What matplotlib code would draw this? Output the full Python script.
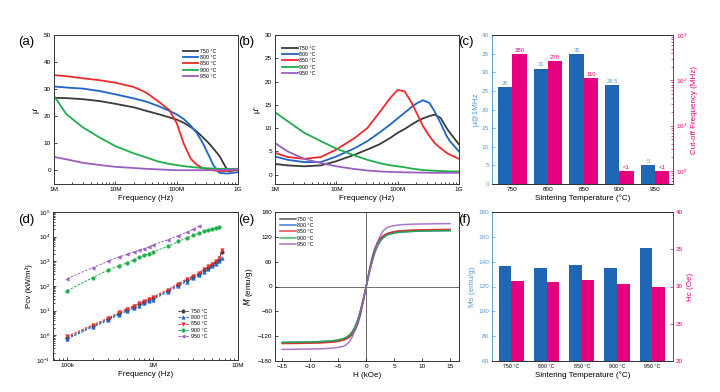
import matplotlib
matplotlib.use('Agg')
import matplotlib.pyplot as plt
from matplotlib.ticker import FixedLocator, LogLocator, NullFormatter, FixedFormatter

plt.rcParams['font.family'] = ['Liberation Sans', 'DejaVu Sans']
plt.rcParams['mathtext.default'] = 'regular'
plt.rcParams['xtick.direction'] = 'in'
plt.rcParams['ytick.direction'] = 'in'
plt.rcParams['axes.linewidth'] = 0.7

# ---------------- data ----------------
temps = ['750 °C', '800 °C', '850 °C', '900 °C', '950 °C']
line_colors = ['#3a3a3a', '#1f64c8', '#ee2a2a', '#1fae4b', '#9b5fc0']

# (a) mu' and (b) mu'' vs frequency
freq_ab = [1e6, 1.6e6, 3e6, 5.6e6, 1e7, 2e7, 3.2e7, 5e7, 7.6e7, 1e8, 1.3e8, 1.7e8,
           2.1e8, 2.6e8, 3.3e8, 4e8, 5e8, 6.3e8, 7.1e8, 1e9]
mu_real_750 = [26.8, 26.7, 26.3, 25.6, 24.6, 23.3, 22.0, 20.8, 19.6, 18.8, 17.6, 16.0,
               14.5, 12.5, 10.2, 8.0, 5.3, 1.2, -0.3, 0.3]
mu_real_800 = [31.0, 30.6, 30.2, 29.3, 28.1, 26.6, 25.4, 23.8, 22.0, 20.7, 19.0, 16.5,
               14.0, 10.6, 5.8, 1.8, -0.9, -1.1, -1.1, -0.6]
mu_real_850 = [35.2, 34.8, 34.0, 33.3, 32.4, 30.8, 28.7, 25.5, 22.3, 17.5, 10.0, 4.3,
               2.2, 1.0, 0.3, 0.0, -0.2, -0.2, -0.1, 0.4]
mu_real_900 = [27.5, 20.7, 15.8, 12.1, 9.0, 6.3, 4.8, 3.3, 2.4, 2.0, 1.6, 1.3,
               1.1, 0.9, 0.8, 0.7, 0.6, 0.6, 0.6, 0.6]
mu_real_950 = [5.0, 4.1, 2.8, 2.0, 1.35, 0.9, 0.6, 0.4, 0.2, 0.1, 0.1, 0.1,
               0.1, 0.1, 0.1, 0.2, 0.2, 0.3, 0.3, 0.4]

mu_imag_750 = [2.3, 2.0, 1.8, 2.0, 2.9, 4.3, 5.4, 6.5, 7.9, 9.0, 9.8, 10.8,
               11.5, 12.1, 12.6, 12.9, 12.2, 10.0, 9.0, 6.5]
mu_imag_800 = [3.9, 3.2, 2.7, 2.7, 3.9, 5.7, 7.2, 9.0, 10.8, 12.1, 13.3, 14.6,
               15.4, 16.0, 15.4, 13.6, 11.1, 8.3, 7.2, 5.0]
mu_imag_850 = [4.7, 3.8, 3.4, 3.8, 5.4, 7.9, 10.0, 13.3, 16.5, 18.2, 17.9, 15.4,
               12.9, 10.4, 8.3, 6.8, 5.7, 4.7, 4.3, 3.4]
mu_imag_900 = [13.4, 11.5, 9.0, 7.2, 5.6, 4.1, 3.2, 2.5, 2.0, 1.8, 1.6, 1.3,
               1.15, 1.0, 0.9, 0.85, 0.8, 0.75, 0.7, 0.7]
mu_imag_950 = [6.8, 5.0, 3.4, 2.5, 1.8, 1.2, 0.9, 0.7, 0.6, 0.55, 0.5, 0.5,
               0.45, 0.45, 0.4, 0.4, 0.4, 0.4, 0.4, 0.4]

# (c) permeability at 1 MHz and cut-off frequency
sinter_c = ['750', '800', '850', '900', '950']
mu_1mhz = [26, 31, 35, 26.5, 5]
mu_1mhz_labels = ['26', '31', '35', '26.5', '5']
cutoff_mhz = [380, 270, 110, 1, 1]
cutoff_labels = ['380', '270', '110', '<1', '<1']

# (d) core loss vs frequency
freq_d_low = [1e5, 2e5, 3e5, 4e5, 5e5, 6e5, 7e5, 8e5, 9e5, 1e6, 1.5e6, 2e6, 2.5e6,
              3e6, 3.5e6, 4e6, 4.5e6, 5e6, 5.5e6, 6e6, 6.5e6]
pcv_750 = [0.8, 2.4, 4.5, 7.6, 10.7, 14, 18, 22.5, 27, 32, 63, 112, 170, 235, 300,
           430, 560, 710, 920, 1150, 2500]
pcv_800 = [0.71, 2.2, 4.0, 6.8, 9.6, 12.6, 16, 20, 24, 28, 57, 100, 150, 210, 270,
           380, 500, 630, 800, 1000, 1400]
pcv_850 = [0.91, 2.7, 5.0, 8.5, 12, 15.8, 20, 25, 30, 35.5, 71, 126, 190, 263, 339,
           479, 631, 794, 1047, 1318, 2950]
freq_d_900 = [1e5, 2e5, 3e5, 4e5, 5e5, 6e5, 7e5, 8e5, 9e5, 1e6, 1.5e6, 2e6, 2.5e6,
              3e6, 3.5e6, 4e6, 4.5e6, 5e6, 5.5e6, 6e6]
pcv_900 = [65, 220, 440, 660, 850, 1150, 1450, 1750, 2050, 2400, 4000, 6400, 8900,
           11200, 14000, 16600, 19000, 21000, 23000, 25000]
freq_d_950 = [1e5, 2e5, 3e5, 4e5, 5e5, 6e5, 7e5, 8e5, 9e5, 1e6, 1.5e6, 2e6, 2.5e6,
              3e6, 3.5e6]
pcv_950 = [200, 560, 1000, 1500, 1900, 2400, 2800, 3300, 3900, 4600, 7500, 11000,
           15000, 20000, 27000]

# (e) hysteresis loops
field_koe = [-15, -12, -10, -8, -6, -5, -4, -3.5, -3, -2.5, -2, -1.5, -1, -0.5, 0,
             0.5, 1, 1.5, 2, 2.5, 3, 3.5, 4, 5, 6, 8, 10, 12, 15]
m_750 = [-137, -136.5, -136, -135.5, -134, -132, -129, -126, -122, -116, -106, -90, -67, -35, 0,
         35, 67, 90, 106, 116, 122, 126, 129, 132, 134, 135.5, 136, 136.5, 137]
m_800 = [-135, -134.5, -134, -133, -131.5, -129.5, -126, -123, -118, -110, -98, -81, -58, -31, 0,
         31, 58, 81, 98, 110, 118, 123, 126, 129.5, 131.5, 133, 134, 134.5, 135]
m_850 = [-138, -137.5, -137, -136, -134.5, -132.5, -129, -126, -121, -113, -101, -83, -60, -32, 0,
         32, 60, 83, 101, 113, 121, 126, 129, 132.5, 134.5, 136, 137, 137.5, 138]
m_900 = [-135, -134.5, -134, -133, -131, -129, -125.5, -122, -117, -109, -97, -80, -57, -30, 0,
         30, 57, 80, 97, 109, 117, 122, 125.5, 129, 131, 133, 134, 134.5, 135]
m_950 = [-152, -151.5, -151, -150.5, -149, -147, -144, -140, -134, -122, -105, -83, -58, -30, 0,
         30, 58, 83, 105, 122, 134, 140, 144, 147, 149, 150.5, 151, 151.5, 152]

# (f) Ms and Hc
ms_emu = [136.4, 134.5, 137.0, 134.8, 150.9]
hc_oe = [30.7, 30.6, 30.9, 30.4, 29.9]

# ---------------- styling ----------------
BAR_BLUE = '#1f67b4'
AX_BLUE = '#5b9bd5'
PINK = '#e6007e'
TICK_FS = 4.6
LAB_FS = 5.8
PANEL_FS = 9.5

fig = plt.figure(figsize=(7.2, 3.92), dpi=100)

def box(l, r, t, b):
    W, H = 720.0, 392.0
    return [l / W, 1 - b / H, (r - l) / W, (b - t) / H]

def style(ax):
    ax.tick_params(which='both', labelsize=TICK_FS, width=0.5, pad=2)
    ax.tick_params(which='major', length=2.5)
    ax.tick_params(which='minor', length=1.5)
    for s in ax.spines.values():
        s.set_color('#333333')

def freq_axis(ax):
    ax.set_xscale('log')
    ax.set_xlim(1e6, 1e9)
    ax.xaxis.set_major_locator(FixedLocator([1e6, 1e7, 1e8, 1e9]))
    ax.xaxis.set_major_formatter(FixedFormatter(['1M', '10M', '100M', '1G']))
    ax.xaxis.set_minor_locator(LogLocator(base=10, subs=range(2, 10)))
    ax.xaxis.set_minor_formatter(NullFormatter())
    ax.set_xlabel('Frequency (Hz)', fontsize=LAB_FS, labelpad=2)

# (a)
axa = fig.add_axes(box(54, 238, 35, 184))
for y, c, t in zip([mu_real_750, mu_real_800, mu_real_850, mu_real_900, mu_real_950], line_colors, temps):
    axa.plot(freq_ab, y, color=c, lw=1.3, label=t)
freq_axis(axa)
axa.set_ylim(-5, 50)
axa.set_yticks([0, 10, 20, 30, 40, 50])
axa.set_ylabel("μ'", fontsize=LAB_FS, labelpad=3)
axa.legend(loc='upper right', bbox_to_anchor=(0.9, 0.93), fontsize=3.8, frameon=False,
           handlelength=3.0, labelspacing=0.25, handletextpad=0.3, borderaxespad=0.2)
style(axa)

# (b)
axb = fig.add_axes(box(275, 459, 35, 184))
for y, c, t in zip([mu_imag_750, mu_imag_800, mu_imag_850, mu_imag_900, mu_imag_950], line_colors, temps):
    axb.plot(freq_ab, y, color=c, lw=1.3, label=t)
freq_axis(axb)
axb.set_ylim(-2, 30)
axb.set_yticks([0, 5, 10, 15, 20, 25, 30])
axb.set_ylabel("μ''", fontsize=LAB_FS, labelpad=3)
axb.legend(loc='upper left', bbox_to_anchor=(0.02, 0.95), fontsize=3.8, frameon=False,
           handlelength=3.0, labelspacing=0.25, handletextpad=0.3, borderaxespad=0.2)
style(axb)

# (c)
axc = fig.add_axes(box(492, 673, 35, 184))
xc = list(range(len(sinter_c)))
w = 0.4
bars = axc.bar([x - w / 2 for x in xc], mu_1mhz, width=w, color=BAR_BLUE, zorder=2)
for b_, lab in zip(bars, mu_1mhz_labels):
    axc.text(b_.get_x() + b_.get_width() / 2, b_.get_height() + 0.3, lab, ha='center', va='bottom',
             fontsize=4.3, color=AX_BLUE)
axc.set_ylim(0, 40)
axc.set_yticks(range(0, 41, 5))
axc.set_xlim(-0.57, 4.5)
axc.set_xticks(xc)
axc.set_xticklabels(sinter_c)
axc.set_xlabel('Sintering Temperature (°C)', fontsize=LAB_FS, labelpad=2)
axc.set_ylabel('μ@1MHz', fontsize=LAB_FS, color=AX_BLUE, labelpad=2)
style(axc)
axc.tick_params(axis='x', which='both', length=0)
axc.tick_params(axis='y', colors=AX_BLUE)
axc.spines['left'].set_color(AX_BLUE)
axc.spines['right'].set_visible(False)

axc2 = axc.twinx()
axc2.set_yscale('log')
axc2.set_ylim(0.51, 1000)
bars2 = axc2.bar([x + w / 2 for x in xc], [v - 0.51 for v in cutoff_mhz], bottom=0.51,
                 width=w, color=PINK, zorder=2)
for x, v, lab in zip(xc, cutoff_mhz, cutoff_labels):
    axc2.text(x + w / 2, v * 1.06, lab, ha='center', va='bottom', fontsize=4.3, color=PINK)
axc2.set_ylabel('Cut-off Frequency (MHz)', fontsize=LAB_FS, color=PINK, labelpad=3)
style(axc2)
axc2.tick_params(axis='y', which='both', colors=PINK)
axc2.spines['right'].set_color(PINK)
axc2.spines['left'].set_visible(False)
axc2.yaxis.set_major_locator(FixedLocator([1, 10, 100, 1000]))
axc2.yaxis.set_minor_locator(LogLocator(base=10, subs=range(2, 10)))
axc2.yaxis.set_minor_formatter(NullFormatter())

# (d)
axd = fig.add_axes(box(53, 238, 212, 360))
markers = ['o', '^', 'v', 'o', '<']
d_sets = [(freq_d_low, pcv_750), (freq_d_low, pcv_800), (freq_d_low, pcv_850),
          (freq_d_900, pcv_900), (freq_d_950, pcv_950)]
for (fx, fy), c, m, t in zip(d_sets, line_colors, markers, temps):
    axd.plot(fx, fy, ls='--', dashes=(2.5, 1.5), color=c, lw=0.7, marker=m, ms=2.6,
             markeredgewidth=0.3, label=t)
axd.set_xscale('log')
axd.set_yscale('log')
axd.set_xlim(6.8e4, 1e7)
axd.set_ylim(0.1, 1e5)
axd.xaxis.set_major_locator(FixedLocator([1e5, 1e6, 1e7]))
axd.xaxis.set_major_formatter(FixedFormatter(['100k', '1M', '10M']))
axd.xaxis.set_minor_locator(LogLocator(base=10, subs=range(2, 10)))
axd.xaxis.set_minor_formatter(NullFormatter())
axd.yaxis.set_major_locator(FixedLocator([0.1, 1, 10, 100, 1e3, 1e4, 1e5]))
axd.yaxis.set_minor_locator(LogLocator(base=10, subs=range(2, 10)))
axd.yaxis.set_minor_formatter(NullFormatter())
axd.set_xlabel('Frequency (Hz)', fontsize=LAB_FS, labelpad=2)
axd.set_ylabel('Pcv (kW/m³)', fontsize=LAB_FS, labelpad=2)
axd.legend(loc='lower right', bbox_to_anchor=(0.85, 0.12), fontsize=3.8, frameon=False,
           handlelength=2.2, labelspacing=0.25, handletextpad=0.3, borderaxespad=0.2)
style(axd)

# (e)
axe = fig.add_axes(box(275, 459, 212, 361))
axe.axhline(0, color='#555555', lw=0.6, zorder=1)
axe.axvline(0, color='#555555', lw=0.6, zorder=1)
for y, c, t in zip([m_750, m_800, m_850, m_900, m_950], line_colors, temps):
    axe.plot(field_koe, y, color=c, lw=1.1, label=t, alpha=0.85, zorder=2)
axe.set_xlim(-16.3, 16.6)
axe.set_ylim(-180, 180)
axe.set_xticks([-15, -10, -5, 0, 5, 10, 15])
axe.set_yticks([-180, -120, -60, 0, 60, 120, 180])
axe.set_xlabel('H (kOe)', fontsize=LAB_FS, labelpad=2)
axe.set_ylabel('$\\mathit{M}$ (emu/g)', fontsize=LAB_FS, labelpad=2)
axe.legend(loc='upper left', bbox_to_anchor=(0.01, 0.99), fontsize=3.8, frameon=False,
           handlelength=3.0, labelspacing=0.25, handletextpad=0.3, borderaxespad=0.2)
style(axe)

# (f)
axf = fig.add_axes(box(492, 673, 212, 361))
wf = 0.36
axf.bar([x - wf / 2 for x in xc], ms_emu, width=wf, color=BAR_BLUE, zorder=2)
axf.set_ylim(60, 180)
axf.set_yticks(range(60, 181, 20))
axf.set_xlim(-0.55, 4.59)
axf.set_xticks(xc)
axf.set_xticklabels(temps, fontsize=3.8)
axf.set_xlabel('Sintering Temperature (°C)', fontsize=LAB_FS, labelpad=2)
axf.set_ylabel('Ms (emu/g)', fontsize=LAB_FS, color=AX_BLUE, labelpad=2)
style(axf)
axf.tick_params(axis='x', which='both', length=0, labelsize=3.8)
axf.tick_params(axis='y', colors=AX_BLUE)
axf.spines['left'].set_color(AX_BLUE)
axf.spines['right'].set_visible(False)
axf2 = axf.twinx()
axf2.bar([x + wf / 2 for x in xc], hc_oe, width=wf, color=PINK, zorder=2)
axf2.set_ylim(20, 40)
axf2.set_yticks(range(20, 41, 5))
axf2.set_ylabel('Hc (Oe)', fontsize=LAB_FS, color=PINK, labelpad=3)
style(axf2)
axf2.tick_params(axis='y', colors=PINK)
axf2.spines['right'].set_color(PINK)
axf2.spines['left'].set_visible(False)

# panel letters
for lab, x, y in [('(a)', 18, 45), ('(b)', 238, 45), ('(c)', 458, 45),
                  ('(d)', 18, 223), ('(e)', 238, 223), ('(f)', 458, 223)]:
    fig.text(x / 720, 1 - y / 392, lab, fontsize=PANEL_FS, ha='left', va='baseline')

fig.savefig('out.png', dpi=100)
